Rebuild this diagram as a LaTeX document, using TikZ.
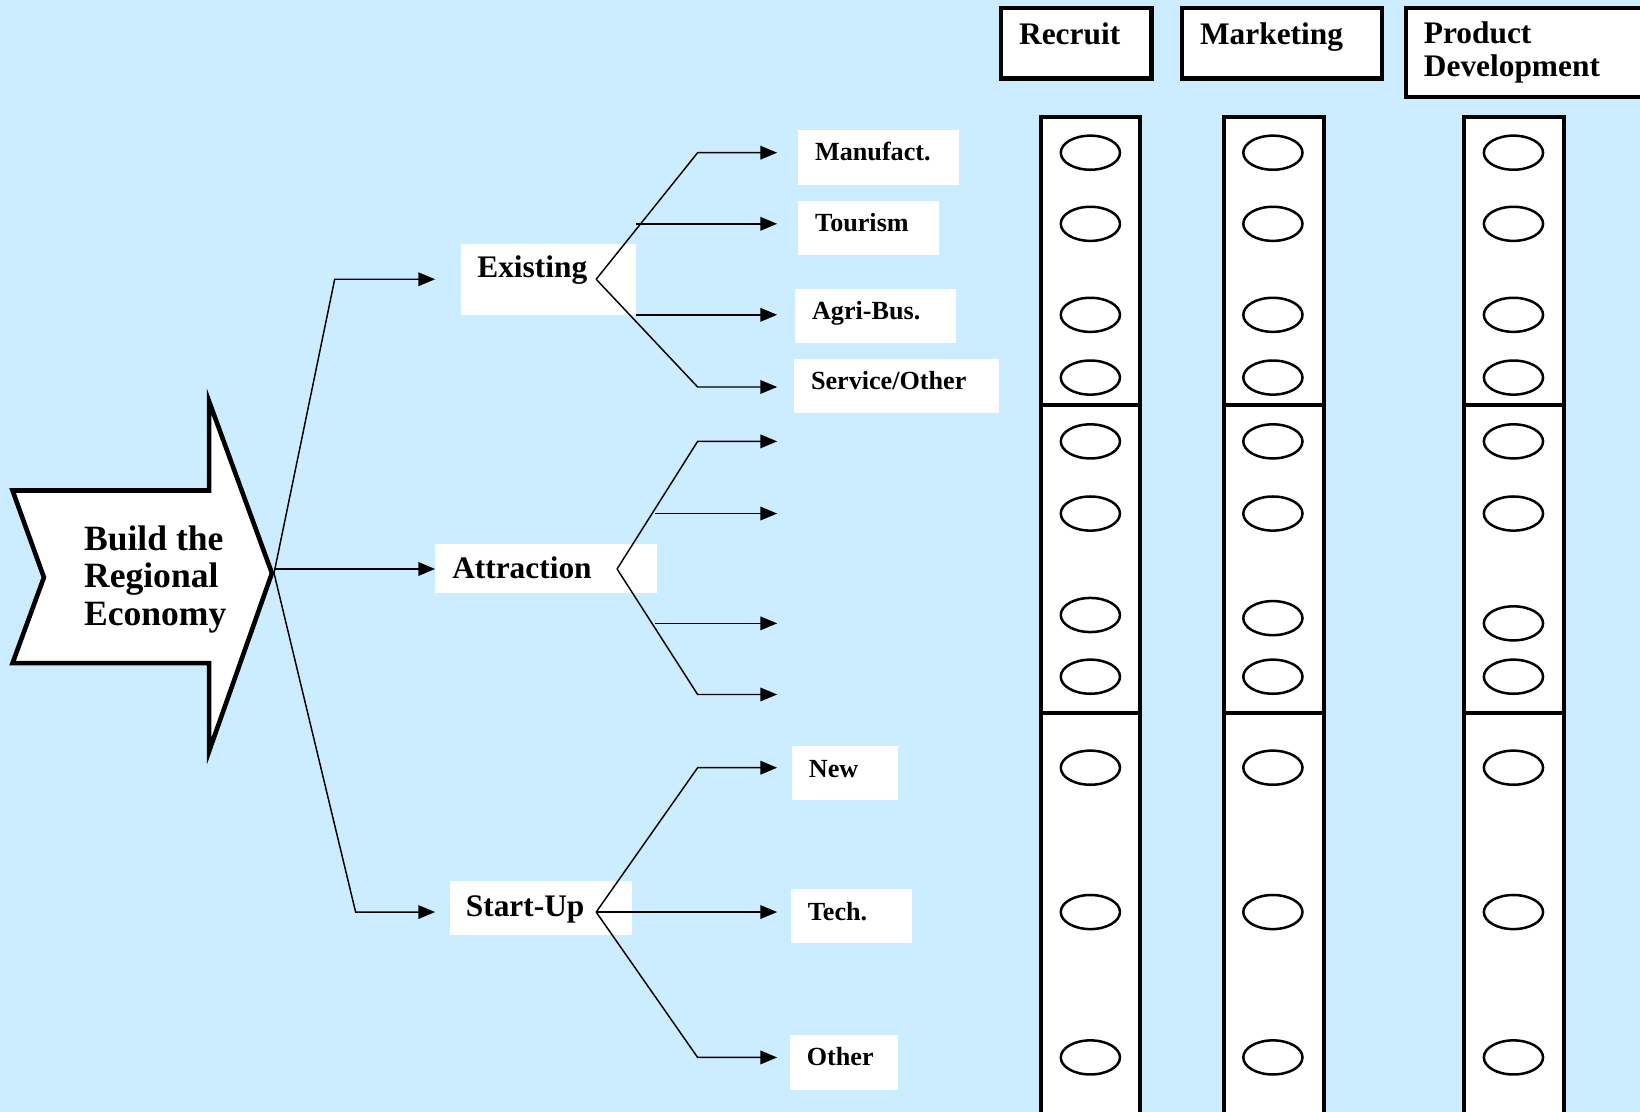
\documentclass[tikz,border=0pt]{standalone}
\usepackage{fontspec}
\setmainfont{Liberation Serif}
\usetikzlibrary{arrows.meta,shapes.geometric,fit}
\definecolor{bg}{RGB}{204,236,255}
\begin{document}
\begin{tikzpicture}[x=0.5pt,y=-0.5pt,
  conn/.style={line width=0.7pt,line join=miter},
  arr/.style={conn,-{Triangle[length=8pt,width=6.5pt]}},
  wbox/.style={fill=white,draw=none,inner sep=0pt},
  hbox/.style={fill=white,draw=black,line width=2pt,inner sep=0pt},
  colbox/.style={fill=white,draw=black,line width=2pt,inner sep=0pt},
  oval/.style={ellipse,draw=black,line width=1.2pt,minimum width=28.3pt,minimum height=16.3pt,inner sep=0pt},
  bigtxt/.style={font=\bfseries\fontsize{17}{18}\selectfont,align=left,inner sep=0pt},
  midtxt/.style={font=\bfseries\fontsize{15}{16}\selectfont,inner sep=0pt,anchor=base west},
  smalltxt/.style={font=\bfseries\fontsize{12.5}{14}\selectfont,inner sep=0pt,anchor=base west},
]
\useasboundingbox (0,0) rectangle (1568,1063);
\fill[bg] (0,0) rectangle (1568,1063);
\clip (0,0) rectangle (1568,1063);

% big arrow
\draw[fill=white,line width=2.2pt,line join=miter]
  (12,469) -- (200,469) -- (200,384) -- (260,548) -- (200,718) -- (200,634) -- (12,634) -- (42,552) -- cycle;
\node[bigtxt,anchor=west] (build) at (80,554) {Build the\\Regional\\Economy};

% header boxes
\node[hbox,fit={(957,8)(1101,75)}] (hrec) {};
\node[midtxt] (trec) at (974,43) {Recruit};
\node[hbox,fit={(1130,8)(1321,75)}] (hmkt) {};
\node[midtxt] (tmkt) at (1147,43) {Marketing};
\node[hbox,fit={(1344,8)(1600,93)}] (hpd) {};
\node[font=\bfseries\fontsize{15}{16}\selectfont,align=left,inner sep=0pt,anchor=west] (tpd) at (1361,50) {Product\\Development};

% columns
\foreach \xa/\xb/\c in {995/1090/1,1170/1266/2,1400/1495/3}{
  \node[colbox,fit={(\xa,112)(\xb,387)}] (col\c a) {};
  \node[colbox,fit={(\xa,387)(\xb,682)}] (col\c b) {};
  \node[colbox,fit={(\xa,682)(\xb,1090)}] (col\c c) {};
}
\foreach \y [count=\i] in {146,214,301,361,422,491,588,647,734,872,1011}
  \node[oval] (o1-\i) at (1042.5,\y) {};
\foreach \y [count=\i] in {146,214,301,361,422,491,591,647,734,872,1011}
  \node[oval] (o2-\i) at (1217,\y) {};
\foreach \y [count=\i] in {146,214,301,361,422,491,596,647,734,872,1011}
  \node[oval] (o3-\i) at (1447,\y) {};

% middle boxes
\node[wbox,fit={(441,233)(608,301)}] (exbox) {};
\node[midtxt] (ex) at (456,265) {Existing};
\node[wbox,fit={(416,520)(628,567)}] (atbox) {};
\node[midtxt] (at) at (432,553) {Attraction};
\node[wbox,fit={(430,842)(604,894)}] (subox) {};
\node[midtxt] (su) at (445,876) {Start-Up};

% small boxes
\node[wbox,fit={(763,124)(917,177)}] (b1) {};
\node[smalltxt] (t1) at (779,153) {Manufact.};
\node[wbox,fit={(763,192)(898,244)}] (b2) {};
\node[smalltxt] (t2) at (779,221) {Tourism};
\node[wbox,fit={(760,276)(914,328)}] (b3) {};
\node[smalltxt] (t3) at (776,305) {Agri-Bus.};
\node[wbox,fit={(759,343)(955,395)}] (b4) {};
\node[smalltxt] (t4) at (775,372) {Service/Other};
\node[wbox,fit={(757,713)(859,765)}] (b5) {};
\node[smalltxt] (t5) at (773,743) {New};
\node[wbox,fit={(756,850)(872,902)}] (b6) {};
\node[smalltxt] (t6) at (772,880) {Tech.};
\node[wbox,fit={(755,990)(859,1042)}] (b7) {};
\node[smalltxt] (t7) at (771,1019) {Other};

% coordinates
\coordinate (tip) at (262,548);
\coordinate (tipm) at (262,544);
\coordinate (k1) at (320,267);
\coordinate (k3) at (340,872);
\coordinate (e1) at (416,267);
\coordinate (e2) at (416,544);
\coordinate (e3) at (416,872);

\coordinate (exB) at (570,267);
\coordinate (exC1) at (667,146);
\coordinate (exC4) at (667,370);
\coordinate (exS2) at (608,214);
\coordinate (exS3) at (608,301);
\coordinate (a1) at (743,146);
\coordinate (a2) at (743,214);
\coordinate (a3) at (743,301);
\coordinate (a4) at (743,370);

\coordinate (atB) at (590,544);
\coordinate (atC1) at (667,422);
\coordinate (atC4) at (667,664);
\coordinate (atS2) at (626,491);
\coordinate (atS3) at (626,596);
\coordinate (a5) at (743,422);
\coordinate (a6) at (743,491);
\coordinate (a7) at (743,596);
\coordinate (a8) at (743,664);

\coordinate (suB) at (570,872);
\coordinate (suC1) at (667,734);
\coordinate (suC3) at (667,1011);
\coordinate (a9) at (743,734);
\coordinate (a10) at (743,872);
\coordinate (a11) at (743,1011);

% connectors
\draw[arr] (tip) -- (k1) -- (e1);
\draw[arr] (tipm) -- (e2);
\draw[arr] (tip) -- (k3) -- (e3);

\draw[arr] (exB) -- (exC1) -- (a1);
\draw[arr] (exS2) -- (a2);
\draw[arr] (exS3) -- (a3);
\draw[arr] (exB) -- (exC4) -- (a4);

\draw[arr] (atB) -- (atC1) -- (a5);
\draw[arr] (atS2) -- (a6);
\draw[arr] (atS3) -- (a7);
\draw[arr] (atB) -- (atC4) -- (a8);

\draw[arr] (suB) -- (suC1) -- (a9);
\draw[arr] (suB) -- (a10);
\draw[arr] (suB) -- (suC3) -- (a11);
\end{tikzpicture}
\end{document}
